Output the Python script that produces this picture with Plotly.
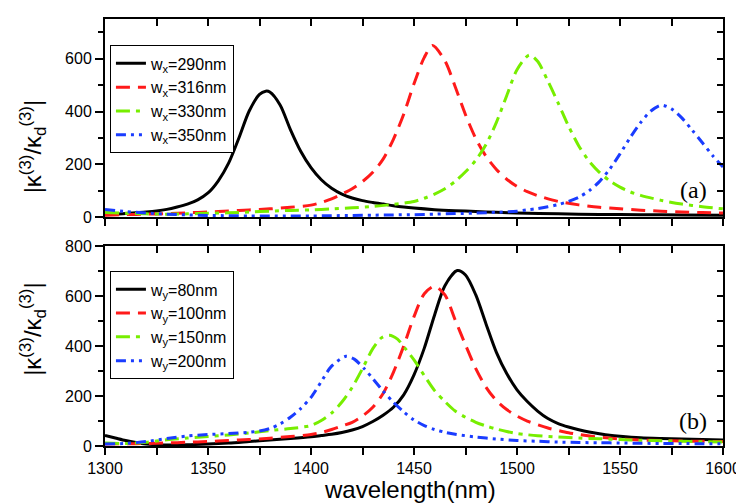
import plotly.graph_objects as go

# ---------------- data ----------------
# Panel (a): varying w_x
wl_x290 = [1300,1305,1310,1315,1320,1325,1330,1335,1340,1345,1350,1355,1360,1365,1370,1375,1378,1380,1385,1390,1395,1400,1405,1410,1415,1420,1425,1430,1435,1440,1445,1450,1460,1470,1480,1490,1500,1520,1540,1560,1580,1600]
k_x290 = [10,12,14,17,20,24,30,39,50,66,92,138,205,300,402,465,477,474,425,332,250,188,142,110,88,73,63,56,50,44,39,35,29,25,22,19,16,13,11,10,9,8]

wl_x316 = [1300,1310,1320,1330,1340,1350,1360,1370,1380,1390,1400,1405,1410,1415,1420,1425,1430,1435,1440,1445,1450,1455,1459,1465,1470,1475,1480,1485,1490,1495,1500,1505,1510,1520,1530,1540,1550,1560,1570,1580,1590,1600]
k_x316 = [8,10,12,14,17,20,24,28,32,38,46,56,70,88,108,135,170,220,295,390,505,605,650,592,494,388,298,230,181,144,117,97,82,60,47,38,32,27,23,20,18,16]

wl_x330 = [1300,1310,1320,1330,1340,1350,1360,1370,1380,1390,1400,1410,1420,1430,1440,1450,1455,1460,1465,1470,1475,1480,1485,1490,1495,1500,1506,1510,1515,1520,1525,1530,1535,1540,1545,1550,1555,1560,1570,1580,1590,1600]
k_x330 = [18,15,13,12,13,15,17,20,23,26,28,32,36,41,49,60,72,88,108,136,172,216,276,359,460,558,614,590,515,432,345,270,212,170,138,114,96,83,64,50,40,32]

wl_x350 = [1300,1310,1320,1330,1340,1350,1360,1370,1380,1390,1400,1410,1420,1430,1440,1450,1460,1470,1480,1490,1500,1505,1510,1515,1520,1525,1530,1535,1540,1545,1550,1555,1560,1565,1570,1575,1580,1585,1590,1595,1600]
k_x350 = [30,22,16,12,9,7,6,5,5,5,5,6,7,8,9,10,12,14,16,19,23,28,33,40,48,60,76,100,135,182,240,302,358,402,424,410,376,330,282,233,190]

# Panel (b): varying w_y
wl_y80 = [1300,1305,1310,1315,1320,1325,1330,1340,1350,1360,1370,1380,1390,1400,1405,1410,1415,1420,1425,1430,1435,1440,1445,1450,1455,1460,1465,1471,1475,1480,1485,1490,1495,1500,1505,1510,1515,1520,1525,1530,1535,1540,1545,1550,1560,1570,1580,1590,1600]
k_y80 = [42,32,22,14,8,5,4,5,8,12,18,24,30,37,42,47,54,64,78,98,123,155,205,285,392,525,642,703,685,605,488,375,290,225,178,140,110,90,76,65,56,49,43,39,33,30,28,26,24]

wl_y100 = [1300,1310,1320,1330,1340,1350,1360,1370,1380,1390,1400,1405,1410,1415,1420,1425,1430,1435,1440,1445,1450,1455,1460,1465,1470,1475,1480,1485,1490,1495,1500,1505,1510,1515,1520,1525,1530,1540,1550,1560,1570,1580,1590,1600]
k_y100 = [8,9,10,12,15,18,22,26,31,38,46,54,66,80,95,120,155,210,295,400,518,610,640,605,505,405,310,235,182,146,120,100,85,72,62,53,46,35,28,24,22,20,19,18]

wl_y150 = [1300,1310,1320,1330,1340,1350,1360,1370,1380,1390,1400,1405,1410,1415,1420,1425,1430,1434,1438,1442,1446,1450,1455,1460,1465,1470,1475,1480,1485,1490,1495,1500,1505,1510,1520,1530,1540,1550,1560,1570,1580,1590,1600]
k_y150 = [12,10,15,25,32,38,44,52,62,70,82,102,132,176,235,310,390,432,444,428,388,345,282,222,178,140,115,95,80,68,58,50,45,41,36,32,29,26,23,21,19,17,16]

wl_y200 = [1300,1310,1320,1330,1340,1350,1360,1370,1375,1380,1385,1390,1395,1400,1405,1410,1417,1421,1426,1430,1435,1440,1445,1450,1455,1460,1465,1470,1480,1490,1500,1510,1520,1530,1540,1550,1560,1570,1580,1590,1600]
k_y200 = [8,10,18,30,40,46,50,55,60,70,88,115,150,195,258,320,359,348,308,270,220,175,137,104,82,66,55,47,36,28,22,19,16,14,13,12,11,10,10,9,9]

labels_a = ["w<sub>x</sub>=290nm", "w<sub>x</sub>=316nm", "w<sub>x</sub>=330nm", "w<sub>x</sub>=350nm"]
labels_b = ["w<sub>y</sub>=80nm", "w<sub>y</sub>=100nm", "w<sub>y</sub>=150nm", "w<sub>y</sub>=200nm"]
x_ticks = [1300, 1350, 1400, 1450, 1500, 1550, 1600]

# ---------------- styles ----------------
colors = ["#000000", "#ff1a1a", "#77ee00", "#1a3cff"]
dashes = ["solid", "14px,8px", "14px,6px,4px,6px", "10px,5px,3px,5px,3px,5px"]
widths = [3, 3, 3, 3]
FONT = "Liberation Sans, Arial, sans-serif"

fig = go.Figure()

series_a = [(wl_x290, k_x290), (wl_x316, k_x316), (wl_x330, k_x330), (wl_x350, k_x350)]
series_b = [(wl_y80, k_y80), (wl_y100, k_y100), (wl_y150, k_y150), (wl_y200, k_y200)]

for i, (xs, ys) in enumerate(series_a):
    fig.add_trace(go.Scatter(x=xs, y=ys, mode="lines", name=labels_a[i],
                             line=dict(color=colors[i], width=widths[i], dash=dashes[i], shape="spline", smoothing=0.8),
                             xaxis="x", yaxis="y", legend="legend"))
for i, (xs, ys) in enumerate(series_b):
    fig.add_trace(go.Scatter(x=xs, y=ys, mode="lines", name=labels_b[i],
                             line=dict(color=colors[i], width=widths[i], dash=dashes[i], shape="spline", smoothing=0.8),
                             xaxis="x2", yaxis="y2", legend="legend2"))

# empty traces that carry the mirrored (inside-tick) top/right axes
fig.add_trace(go.Scatter(x=[], y=[], xaxis="x3", yaxis="y3", showlegend=False, hoverinfo="skip"))
fig.add_trace(go.Scatter(x=[], y=[], xaxis="x4", yaxis="y4", showlegend=False, hoverinfo="skip"))

top_dom = [0.5356, 1.0]
bot_dom = [0.0, 0.4678]
xr = [1300, 1600]

common_x = dict(range=xr, showline=True, linecolor="black", linewidth=2, showgrid=False, zeroline=False,
                ticks="outside", ticklen=7, tickwidth=1.5, tickcolor="black", tickvals=x_ticks,
                minor=dict(dtick=25, tick0=1300, ticks="outside", ticklen=7, tickwidth=1.5, tickcolor="black"),
                tickfont=dict(family=FONT, size=16, color="black"), ticklabeloverflow="allow")
common_y = dict(showline=True, linecolor="black", linewidth=2, showgrid=False, zeroline=False,
                ticks="outside", ticklen=8, tickwidth=1.5, tickcolor="black", dtick=200, tick0=0,
                minor=dict(dtick=100, tick0=0, ticks="outside", ticklen=5, tickwidth=1.5, tickcolor="black"),
                tickfont=dict(family=FONT, size=16, color="black"))
mirror_x = dict(range=xr, showline=True, linecolor="black", linewidth=2, showgrid=False, zeroline=False,
                ticks="inside", ticklen=7, tickwidth=1.5, tickcolor="black", dtick=25, tick0=1300,
                showticklabels=False, side="top")
mirror_y = dict(showline=True, linecolor="black", linewidth=2, showgrid=False, zeroline=False,
                ticks="inside", ticklen=6, tickwidth=1.5, tickcolor="black", dtick=100, tick0=0,
                showticklabels=False, side="right")

# the page body adds an 8px offset, so the figure is 8px smaller on each axis
fig.update_layout(
    width=736, height=495,
    margin=dict(l=97, r=17, t=3, b=57),
    paper_bgcolor="white", plot_bgcolor="white",
    font=dict(family=FONT, color="black"),
    xaxis=dict(**common_x, anchor="y", domain=[0, 1], showticklabels=False),
    yaxis=dict(**common_y, anchor="x", domain=top_dom, range=[0, 750]),
    xaxis2=dict(**common_x, anchor="y2", domain=[0, 1]),
    yaxis2=dict(**common_y, anchor="x2", domain=bot_dom, range=[0, 800]),
    xaxis3=dict(**mirror_x, overlaying="x", anchor="y"),
    yaxis3=dict(**mirror_y, overlaying="y", anchor="x", range=[0, 750]),
    xaxis4=dict(**mirror_x, overlaying="x2", anchor="y2"),
    yaxis4=dict(**mirror_y, overlaying="y2", anchor="x2", range=[0, 800]),
    legend=dict(x=0.008, y=0.938, xanchor="left", yanchor="top", xref="paper", yref="paper",
                bordercolor="black", borderwidth=1, bgcolor="white",
                font=dict(family=FONT, size=16, color="black"), tracegroupgap=0, itemwidth=30),
    legend2=dict(x=0.008, y=0.409, xanchor="left", yanchor="top", xref="paper", yref="paper",
                 bordercolor="black", borderwidth=1, bgcolor="white",
                 font=dict(family=FONT, size=16, color="black"), tracegroupgap=0, itemwidth=30),
    showlegend=True,
)

ytitle = "|κ<sup>(3)</sup>/κ<sub>d</sub><sup>(3)</sup>|"
fig.add_annotation(text=ytitle, xref="paper", yref="paper", x=-0.117, y=0.701, textangle=-90,
                   showarrow=False, xanchor="center", yanchor="middle",
                   font=dict(family=FONT, size=24, color="black"))
fig.add_annotation(text=ytitle, xref="paper", yref="paper", x=-0.117, y=0.2736, textangle=-90,
                   showarrow=False, xanchor="center", yanchor="middle",
                   font=dict(family=FONT, size=24, color="black"))
fig.add_annotation(text="wavelength(nm)", xref="paper", yref="paper", x=0.494, y=-0.101,
                   showarrow=False, xanchor="center", yanchor="middle",
                   font=dict(family=FONT, size=24, color="black"))
fig.add_annotation(text="(a)", xref="paper", yref="paper", x=0.952, y=0.60,
                   showarrow=False, xanchor="center", yanchor="middle",
                   font=dict(family="Liberation Serif, Times New Roman, serif", size=24, color="black"))
fig.add_annotation(text="(b)", xref="paper", yref="paper", x=0.952, y=0.0575,
                   showarrow=False, xanchor="center", yanchor="middle",
                   font=dict(family="Liberation Serif, Times New Roman, serif", size=24, color="black"))

fig.write_html("out.html")
